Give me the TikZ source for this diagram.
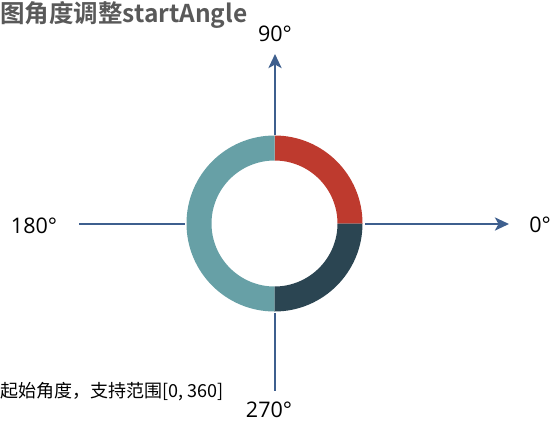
\documentclass[tikz,border=0pt]{standalone}
\usepackage{fontspec}
\setmainfont{Open Sans}
\newfontfamily\cjk{Noto Sans CJK SC}
\newfontfamily\cjkb{Noto Sans CJK SC Bold}
\usetikzlibrary{arrows.meta}
\definecolor{segred}{HTML}{BE3A2E}
\definecolor{segdark}{HTML}{2B4552}
\definecolor{segteal}{HTML}{67A0A6}
\definecolor{axisblue}{HTML}{3E5F8E}
\definecolor{titlegray}{HTML}{595959}
\tikzset{
  axisline/.style={draw=axisblue, line width=2.8pt},
  axisarrow/.style={axisline, -{Stealth[length=14pt,width=13pt,inset=3.5pt]}},
  anglelabel/.style={font=\fontsize{21.5}{25}\selectfont, text=black, inner sep=0pt},
}
\begin{document}
\begin{tikzpicture}[x=1pt,y=1pt]
\useasboundingbox (0,0) rectangle (557,-429);
\fill[white] (0,0) rectangle (557,-429);
\coordinate (c) at (274.5,-223.5);
% ring segments
\fill[segred] (c) ++(0:88pt) arc[start angle=0,end angle=90,radius=88pt] -- ++(0,-25pt) arc[start angle=90,end angle=0,radius=63pt] -- cycle;
\fill[segteal] (c) ++(90:88pt) arc[start angle=90,end angle=270,radius=88pt] -- ++(0,25pt) arc[start angle=270,end angle=90,radius=63pt] -- cycle;
\fill[segdark] (c) ++(270:88pt) arc[start angle=270,end angle=360,radius=88pt] -- ++(-25pt,0) arc[start angle=360,end angle=270,radius=63pt] -- cycle;
% axis end points
\coordinate (upstart) at (275,-135);
\coordinate (uptip) at (275,-54);
\coordinate (rtstart) at (365,-224);
\coordinate (rttip) at (509,-224);
\coordinate (lfstart) at (79,-224);
\coordinate (lfend) at (185,-224);
\coordinate (dnstart) at (275,-313);
\coordinate (dnend) at (275,-391);
\draw[axisarrow] (upstart) -- (uptip);
\draw[axisarrow] (rtstart) -- (rttip);
\draw[axisline] (lfstart) -- (lfend);
\draw[axisline] (dnstart) -- (dnend);
% labels
\node[anglelabel] (l90) at (275,-34) {90°};
\node[anglelabel] (l0) at (540,-225) {0°};
\node[anglelabel] (l180) at (34,-226) {180°};
\node[anglelabel] (l270) at (269,-410) {270°};
\node[anchor=west, inner sep=0pt, text=titlegray, font=\cjkb\fontsize{24.5}{28}\selectfont] (title) at (0,-15) {图角度调整startAngle};
\node[anchor=west, inner sep=0pt, text=black, font=\cjk\fontsize{18}{21}\selectfont] (note) at (0,-392) {起始角度，支持范围[0, 360]};
\end{tikzpicture}
\end{document}
